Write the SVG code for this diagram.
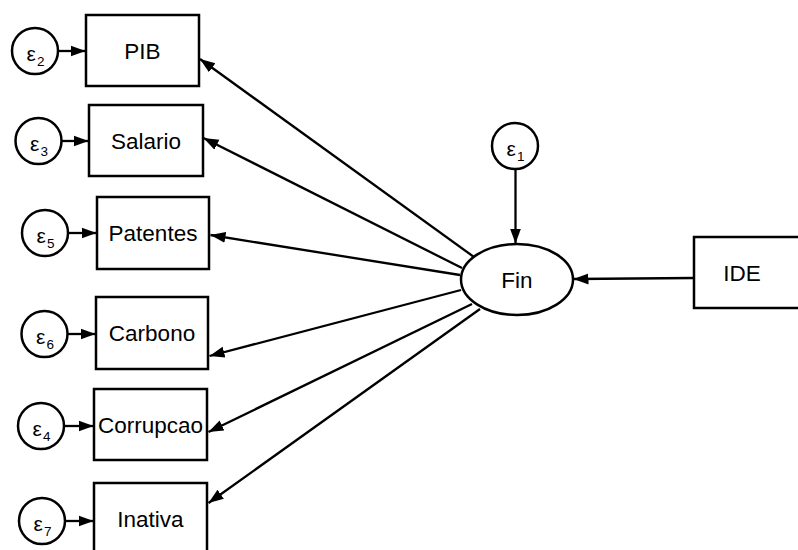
<svg xmlns="http://www.w3.org/2000/svg" width="798" height="550" viewBox="0 0 798 550">
  <style>
    .box { fill: #ffffff; stroke: #000000; stroke-width: 2.5; }
    .err { fill: #ffffff; stroke: #000000; stroke-width: 2.5; }
    .lbl { font-family: "Liberation Sans", Arial, sans-serif; font-size: 22.5px; fill: #000000; text-anchor: middle; }
    .eps { font-family: "Liberation Sans", Arial, sans-serif; font-size: 21px; fill: #000000; }
    .sub { font-size: 13.5px; }
    .edge { stroke: #000000; stroke-width: 2.3; fill: none; marker-end: url(#arrow); }
  </style>
  <defs>
    <marker id="arrow" markerUnits="userSpaceOnUse" markerWidth="16" markerHeight="13" refX="15" refY="6.5" orient="auto">
      <path d="M0,1 L15,6.5 L0,12 Z" fill="#000000"/>
    </marker>
  </defs>
  <rect width="798" height="550" fill="#ffffff"/>

  <!-- paths -->
  <g id="connectors">
    <!-- error terms to indicators -->
    <line class="edge" x1="58" y1="51" x2="85.5" y2="51"/>
    <line class="edge" x1="61.5" y1="141" x2="88.5" y2="141"/>
    <line class="edge" x1="68" y1="233" x2="96.5" y2="233"/>
    <line class="edge" x1="67.5" y1="334" x2="95.5" y2="334"/>
    <line class="edge" x1="64" y1="426" x2="93.5" y2="426"/>
    <line class="edge" x1="65" y1="521" x2="93.5" y2="521"/>
    <!-- error term to latent -->
    <line class="edge" x1="515.5" y1="169" x2="515.5" y2="243.5"/>
    <!-- IDE to latent -->
    <line class="edge" x1="694" y1="278" x2="573.5" y2="279"/>
    <!-- latent to indicators -->
    <line class="edge" x1="474" y1="257" x2="200" y2="59"/>
    <line class="edge" x1="462" y1="268" x2="203.5" y2="138"/>
    <line class="edge" x1="460" y1="275" x2="210.5" y2="235"/>
    <line class="edge" x1="461" y1="290" x2="209.5" y2="356"/>
    <line class="edge" x1="472" y1="304" x2="208.5" y2="432"/>
    <line class="edge" x1="480" y1="309" x2="208.5" y2="503"/>
  </g>

  <!-- observed indicators -->
  <g id="PIB">
    <rect class="box" x="86" y="15" width="113" height="71"/>
    <text class="lbl" x="142.5" y="58.5">PIB</text>
  </g>
  <g id="Salario">
    <rect class="box" x="89" y="105" width="114" height="71"/>
    <text class="lbl" x="146" y="148.5">Salario</text>
  </g>
  <g id="Patentes">
    <rect class="box" x="97" y="197" width="112" height="72"/>
    <text class="lbl" x="153" y="241">Patentes</text>
  </g>
  <g id="Carbono">
    <rect class="box" x="96" y="297" width="112" height="72"/>
    <text class="lbl" x="152" y="341">Carbono</text>
  </g>
  <g id="Corrupcao">
    <rect class="box" x="94" y="389" width="113" height="71"/>
    <text class="lbl" x="150.5" y="432.5">Corrupcao</text>
  </g>
  <g id="Inativa">
    <rect class="box" x="94" y="483" width="113" height="71"/>
    <text class="lbl" x="150.5" y="527">Inativa</text>
  </g>
  <g id="IDE">
    <rect class="box" x="694" y="237" width="113" height="71"/>
    <text class="lbl" x="742" y="281">IDE</text>
  </g>

  <!-- latent variable -->
  <g id="Fin">
    <ellipse class="box" cx="517" cy="279.5" rx="56" ry="35.5"/>
    <text class="lbl" x="517" y="287.5">Fin</text>
  </g>

  <!-- error terms -->
  <g id="e1">
    <circle class="err" cx="515" cy="146" r="23"/>
    <text class="eps" x="506.5" y="156">ε<tspan class="sub" dx="1" dy="5">1</tspan></text>
  </g>
  <g id="e2">
    <circle class="err" cx="35" cy="51" r="23"/>
    <text class="eps" x="26.5" y="61">ε<tspan class="sub" dx="1" dy="5">2</tspan></text>
  </g>
  <g id="e3">
    <circle class="err" cx="38.5" cy="141" r="23"/>
    <text class="eps" x="30" y="151">ε<tspan class="sub" dx="1" dy="5">3</tspan></text>
  </g>
  <g id="e5">
    <circle class="err" cx="45" cy="233" r="23"/>
    <text class="eps" x="36.5" y="243">ε<tspan class="sub" dx="1" dy="5">5</tspan></text>
  </g>
  <g id="e6">
    <circle class="err" cx="44.5" cy="334" r="23"/>
    <text class="eps" x="36" y="344">ε<tspan class="sub" dx="1" dy="5">6</tspan></text>
  </g>
  <g id="e4">
    <circle class="err" cx="41" cy="426" r="23"/>
    <text class="eps" x="32.5" y="436">ε<tspan class="sub" dx="1" dy="5">4</tspan></text>
  </g>
  <g id="e7">
    <circle class="err" cx="42" cy="521" r="23"/>
    <text class="eps" x="33.5" y="531">ε<tspan class="sub" dx="1" dy="5">7</tspan></text>
  </g>
</svg>
